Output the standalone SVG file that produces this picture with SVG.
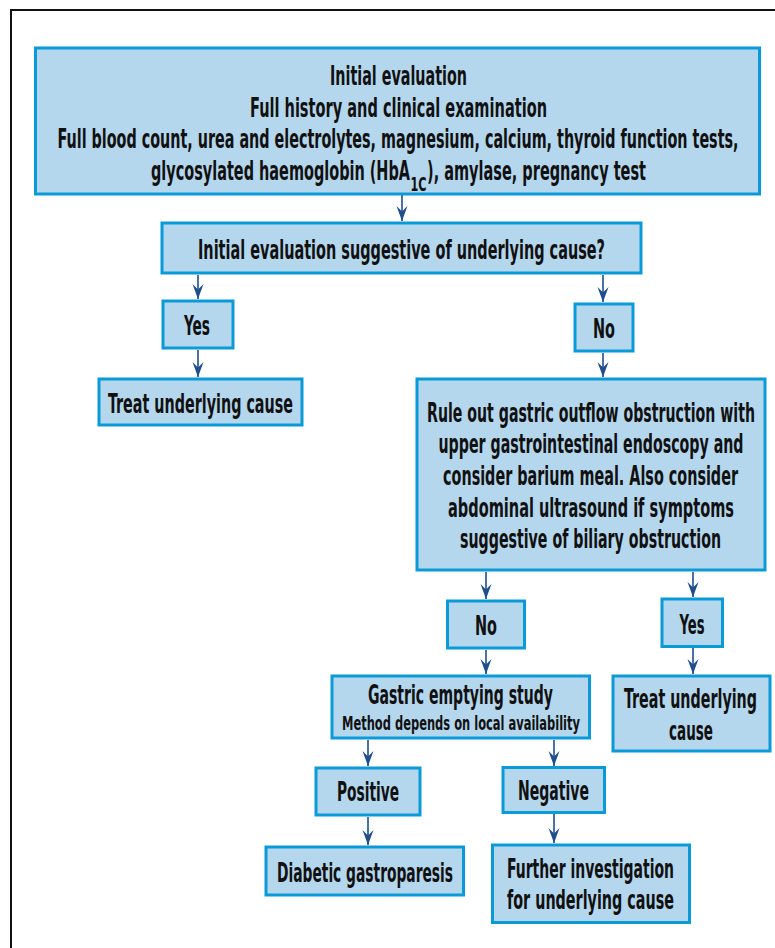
<svg xmlns="http://www.w3.org/2000/svg" width="775" height="948" viewBox="0 0 775 948">
<style>
.box{fill:#B5D7EE;stroke:#0A9AD8;stroke-width:3}
.t{font-family:"DejaVu Sans Condensed","Liberation Sans",sans-serif;font-weight:bold;font-size:26px;fill:#111;text-anchor:middle}
.s{font-size:20px}
.l{text-anchor:start}
.c{stroke:#1F4E8C;stroke-width:1.6;fill:none;marker-end:url(#ah)}
</style>
<defs>
<marker id="ah" markerUnits="userSpaceOnUse" markerWidth="18" markerHeight="14" viewBox="-16 -7 18 14" refX="0" refY="0" orient="auto">
<path d="M0,0 L-15,-5.5 L-9.5,0 L-15,5.5 Z" fill="#1F4E8C"/>
</marker>
</defs>
<rect width="775" height="948" fill="#fff"/>
<path d="M11,948 V10 H775" fill="none" stroke="#111" stroke-width="2"/>

<g id="connectors">
<line class="c" x1="402" y1="195" x2="402" y2="221"/>
<line class="c" x1="198" y1="275" x2="198" y2="299"/>
<line class="c" x1="603" y1="275" x2="603" y2="302"/>
<line class="c" x1="198" y1="350" x2="198" y2="377"/>
<line class="c" x1="603" y1="353" x2="603" y2="377"/>
<line class="c" x1="486" y1="572" x2="486" y2="599"/>
<line class="c" x1="693" y1="572" x2="693" y2="597"/>
<line class="c" x1="486" y1="650" x2="486" y2="674"/>
<line class="c" x1="693" y1="648" x2="693" y2="674"/>
<line class="c" x1="368" y1="740" x2="368" y2="766"/>
<line class="c" x1="554" y1="740" x2="554" y2="766"/>
<line class="c" x1="368" y1="817" x2="368" y2="845"/>
<line class="c" x1="554" y1="814" x2="554" y2="843"/>
</g>

<g id="initial">
<rect class="box" x="35.5" y="48" width="724" height="146"/>
<text class="t" x="398.5" y="85" textLength="137" lengthAdjust="spacingAndGlyphs">Initial evaluation</text>
<text class="t" x="398.5" y="116.5" textLength="297" lengthAdjust="spacingAndGlyphs">Full history and clinical examination</text>
<text class="t" x="398" y="148" textLength="681" lengthAdjust="spacingAndGlyphs">Full blood count, urea and electrolytes, magnesium, calcium, thyroid function tests,</text>
<text class="t l" x="151" y="180" textLength="259" lengthAdjust="spacingAndGlyphs">glycosylated haemoglobin (HbA</text>
<text class="t s l" x="410.5" y="190.5" textLength="16" lengthAdjust="spacingAndGlyphs">1C</text>
<text class="t l" x="427" y="180" textLength="219" lengthAdjust="spacingAndGlyphs">), amylase, pregnancy test</text>
</g>

<g id="question">
<rect class="box" x="162" y="223" width="479" height="50"/>
<text class="t" x="401.5" y="258.5" textLength="407" lengthAdjust="spacingAndGlyphs">Initial evaluation suggestive of underlying cause?</text>
</g>

<g id="yes1">
<rect class="box" x="163" y="301" width="70" height="47"/>
<text class="t" x="197" y="335" textLength="26" lengthAdjust="spacingAndGlyphs">Yes</text>
</g>

<g id="no1">
<rect class="box" x="575" y="304" width="58" height="47"/>
<text class="t" x="604" y="338" textLength="22" lengthAdjust="spacingAndGlyphs">No</text>
</g>

<g id="treat1">
<rect class="box" x="99" y="379" width="203" height="46"/>
<text class="t" x="200.5" y="412.5" textLength="185" lengthAdjust="spacingAndGlyphs">Treat underlying cause</text>
</g>

<g id="ruleout">
<rect class="box" x="417" y="379" width="348" height="191"/>
<text class="t" x="591" y="421.5" textLength="328" lengthAdjust="spacingAndGlyphs">Rule out gastric outflow obstruction with</text>
<text class="t" x="591" y="453" textLength="305" lengthAdjust="spacingAndGlyphs">upper gastrointestinal endoscopy and</text>
<text class="t" x="590.5" y="484.5" textLength="295" lengthAdjust="spacingAndGlyphs">consider barium meal. Also consider</text>
<text class="t" x="591" y="516.5" textLength="286" lengthAdjust="spacingAndGlyphs">abdominal ultrasound if symptoms</text>
<text class="t" x="590.5" y="548" textLength="261" lengthAdjust="spacingAndGlyphs">suggestive of biliary obstruction</text>
</g>

<g id="no2">
<rect class="box" x="447.5" y="601" width="77" height="47"/>
<text class="t" x="486" y="635" textLength="22" lengthAdjust="spacingAndGlyphs">No</text>
</g>

<g id="yes2">
<rect class="box" x="662" y="599" width="60.5" height="47.5"/>
<text class="t" x="692" y="634" textLength="25" lengthAdjust="spacingAndGlyphs">Yes</text>
</g>

<g id="gastric">
<rect class="box" x="332" y="676" width="257.5" height="62"/>
<text class="t" x="460.5" y="704" textLength="185" lengthAdjust="spacingAndGlyphs">Gastric emptying study</text>
<text class="t s" x="461" y="730" textLength="238" lengthAdjust="spacingAndGlyphs">Method depends on local availability</text>
</g>

<g id="treat2">
<rect class="box" x="613" y="676" width="157" height="75"/>
<text class="t" x="690.5" y="708" textLength="133" lengthAdjust="spacingAndGlyphs">Treat underlying</text>
<text class="t" x="691" y="740" textLength="44" lengthAdjust="spacingAndGlyphs">cause</text>
</g>

<g id="positive">
<rect class="box" x="316" y="768" width="104" height="47"/>
<text class="t" x="368" y="800.5" textLength="62" lengthAdjust="spacingAndGlyphs">Positive</text>
</g>

<g id="negative">
<rect class="box" x="503" y="767.5" width="101.5" height="45"/>
<text class="t" x="553.5" y="800" textLength="71" lengthAdjust="spacingAndGlyphs">Negative</text>
</g>

<g id="diabetic">
<rect class="box" x="266" y="847" width="197.5" height="48"/>
<text class="t" x="365" y="881.5" textLength="176" lengthAdjust="spacingAndGlyphs">Diabetic gastroparesis</text>
</g>

<g id="further">
<rect class="box" x="492.5" y="845" width="197" height="77.5"/>
<text class="t" x="590.5" y="877.5" textLength="167" lengthAdjust="spacingAndGlyphs">Further investigation</text>
<text class="t" x="590.5" y="909" textLength="167" lengthAdjust="spacingAndGlyphs">for underlying cause</text>
</g>
</svg>
